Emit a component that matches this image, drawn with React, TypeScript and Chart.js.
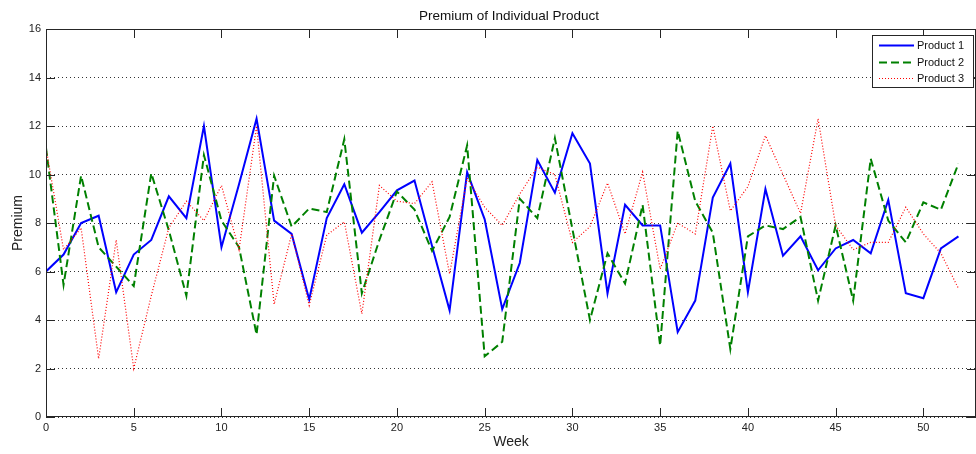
import React, { useEffect, useRef } from "react";
import { Chart, registerables } from "chart.js";

Chart.register(...registerables);

const weeks = [
  0, 1, 2, 3, 4, 5, 6, 7, 8, 9, 10, 11, 12, 13, 14, 15, 16, 17, 18, 19, 20, 21, 22, 23, 24, 25, 26,
  27, 28, 29, 30, 31, 32, 33, 34, 35, 36, 37, 38, 39, 40, 41, 42, 43, 44, 45, 46, 47, 48, 49, 50, 51, 52,
];

const product1 = [
  6.0, 6.7, 8.0, 8.3, 5.15, 6.7, 7.3, 9.1, 8.2, 12.0,
  7.0, 9.6, 12.3, 8.1, 7.55, 4.85, 8.2, 9.6, 7.6, 8.45,
  9.35, 9.75, 7.05, 4.4, 10.1, 8.15, 4.45, 6.35, 10.6, 9.25,
  11.7, 10.45, 5.1, 8.75, 7.9, 7.9, 3.5, 4.8, 9.05, 10.45,
  5.15, 9.4, 6.65, 7.45, 6.05, 6.95, 7.3, 6.75, 8.95, 5.1,
  4.9, 6.95, 7.45,
];

const product2 = [
  11.1, 5.45, 9.95, 7.0, 6.2, 5.4, 10.05, 7.7, 5.0, 10.8,
  8.1, 7.0, 3.4, 9.95, 7.85, 8.6, 8.45, 11.45, 5.1, 7.3,
  9.3, 8.55, 6.85, 8.25, 11.2, 2.5, 3.1, 9.0, 8.2, 11.5,
  7.75, 4.0, 6.75, 5.5, 8.75, 2.95, 11.8, 8.9, 7.6, 2.8,
  7.45, 7.9, 7.75, 8.25, 4.8, 7.9, 4.8, 10.65, 8.1, 7.2,
  8.85, 8.55, 10.45,
];

const product3 = [
  11.1, 6.9, 7.8, 2.4, 7.3, 2.0, 5.0, 7.8, 8.9, 8.1,
  9.55, 6.9, 12.0, 4.65, 7.55, 4.6, 7.5, 8.05, 4.25, 9.55,
  8.9, 8.8, 9.7, 5.9, 9.85, 8.65, 7.9, 9.2, 10.3, 10.0,
  7.2, 7.85, 9.65, 7.55, 10.1, 6.1, 8.0, 7.55, 12.0, 8.5,
  9.5, 11.6, 10.0, 8.4, 12.3, 7.9, 6.9, 7.2, 7.2, 8.65,
  7.55, 6.75, 5.3,
];

const seriesLabels = ["Product 1", "Product 2", "Product 3"];
const chartTitle = "Premium of Individual Product";
const xTitle = "Week";
const yTitle = "Premium";

const FONT = "'Liberation Sans', Arial, Helvetica, sans-serif";
const INK = "#262626";

const seriesStyles = [
  { color: "#0000ff", width: 2, dash: [] as number[] },
  { color: "#008000", width: 2, dash: [8, 4] },
  { color: "#ff0000", width: 1.2, dash: [1, 2] },
];

const matlabFrame = {
  id: "matlabFrame",
  afterDatasetsDraw(chart: any) {
    const { ctx, chartArea: a, scales } = chart;
    ctx.save();
    // axes box
    ctx.strokeStyle = INK;
    ctx.lineWidth = 1;
    ctx.setLineDash([]);
    ctx.strokeRect(a.left + 0.5, a.top + 0.5, a.right - a.left - 1, a.bottom - a.top - 1);
    // inward ticks
    const tl = 9;
    ctx.beginPath();
    scales.x.ticks.forEach((t: any) => {
      const px = Math.round(scales.x.getPixelForValue(t.value)) + 0.5;
      ctx.moveTo(px, a.bottom);
      ctx.lineTo(px, a.bottom - tl);
      ctx.moveTo(px, a.top);
      ctx.lineTo(px, a.top + tl);
    });
    scales.y.ticks.forEach((t: any) => {
      const py = Math.round(scales.y.getPixelForValue(t.value)) + 0.5;
      ctx.moveTo(a.left, py);
      ctx.lineTo(a.left + tl, py);
      ctx.moveTo(a.right, py);
      ctx.lineTo(a.right - tl, py);
    });
    ctx.stroke();

    // title
    ctx.fillStyle = "#111";
    ctx.font = `13.5px ${FONT}`;
    ctx.textAlign = "center";
    ctx.textBaseline = "middle";
    ctx.fillText(chartTitle, (a.left + a.right) / 2 - 2, 16);

    // legend
    const lx = 872, ly = 35, lw = 101, lh = 52;
    ctx.fillStyle = "#fff";
    ctx.fillRect(lx, ly, lw, lh);
    ctx.strokeStyle = INK;
    ctx.strokeRect(lx + 0.5, ly + 0.5, lw, lh);
    const rows = [45, 62, 78];
    ctx.font = `11px ${FONT}`;
    ctx.textAlign = "left";
    chart.data.datasets.forEach((ds: any, i: number) => {
      const st = seriesStyles[i];
      ctx.beginPath();
      ctx.strokeStyle = st.color;
      ctx.lineWidth = st.width;
      ctx.setLineDash(st.dash);
      ctx.moveTo(879, rows[i] + 0.5);
      ctx.lineTo(914, rows[i] + 0.5);
      ctx.stroke();
      ctx.setLineDash([]);
      ctx.fillStyle = "#111";
      ctx.fillText(ds.label, 917, rows[i] + 0.5);
    });
    ctx.restore();
  },
};

export default function App() {
  const canvasRef = useRef<HTMLCanvasElement | null>(null);

  useEffect(() => {
    if (!canvasRef.current) return;
    const series = [product1, product2, product3];
    const chart = new Chart(canvasRef.current, {
      type: "line",
      data: {
        datasets: series.map((vals, i) => ({
          label: seriesLabels[i],
          data: weeks.map((w, j) => ({ x: w, y: vals[j] })),
          borderColor: seriesStyles[i].color,
          backgroundColor: seriesStyles[i].color,
          borderWidth: seriesStyles[i].width,
          borderDash: seriesStyles[i].dash,
          pointRadius: 0,
          pointHoverRadius: 0,
          tension: 0,
          fill: false,
          order: 3 - i,
        })),
      },
      options: {
        responsive: false,
        animation: false,
        events: [],
        layout: { padding: { top: 29, left: 0, right: 0, bottom: 0 } },
        plugins: {
          legend: { display: false },
          title: { display: false },
          tooltip: { enabled: false },
        },
        scales: {
          x: {
            type: "linear",
            min: 0,
            max: 53,
            grid: { display: false, drawTicks: false },
            border: { display: false },
            ticks: {
              stepSize: 5,
              includeBounds: false,
              autoSkip: false,
              maxRotation: 0,
              padding: 4,
              color: "#222",
              font: { family: FONT, size: 11 },
            },
            title: {
              display: true,
              text: xTitle,
              color: "#222",
              font: { family: FONT, size: 14 },
              padding: { top: 0, bottom: 3 },
            },
            afterFit: (s: any) => {
              s.height = 37;
            },
          },
          y: {
            min: 0,
            max: 16,
            grid: { color: "#333", lineWidth: 1, drawTicks: false },
            border: { display: false, dash: [1, 3] },
            ticks: {
              stepSize: 2,
              padding: 5,
              color: "#222",
              font: { family: FONT, size: 11 },
            },
            title: {
              display: true,
              text: yTitle,
              color: "#222",
              font: { family: FONT, size: 14 },
              padding: { top: 10, bottom: 0 },
            },
            afterFit: (s: any) => {
              s.width = 46;
            },
          },
        },
      },
      plugins: [matlabFrame],
    });
    return () => chart.destroy();
  }, []);

  return (
    <div style={{ position: "absolute", left: 0, top: 0, width: 976, height: 454, background: "#fff" }}>
      <canvas ref={canvasRef} width={976} height={454} style={{ width: 976, height: 454, display: "block" }} />
    </div>
  );
}
